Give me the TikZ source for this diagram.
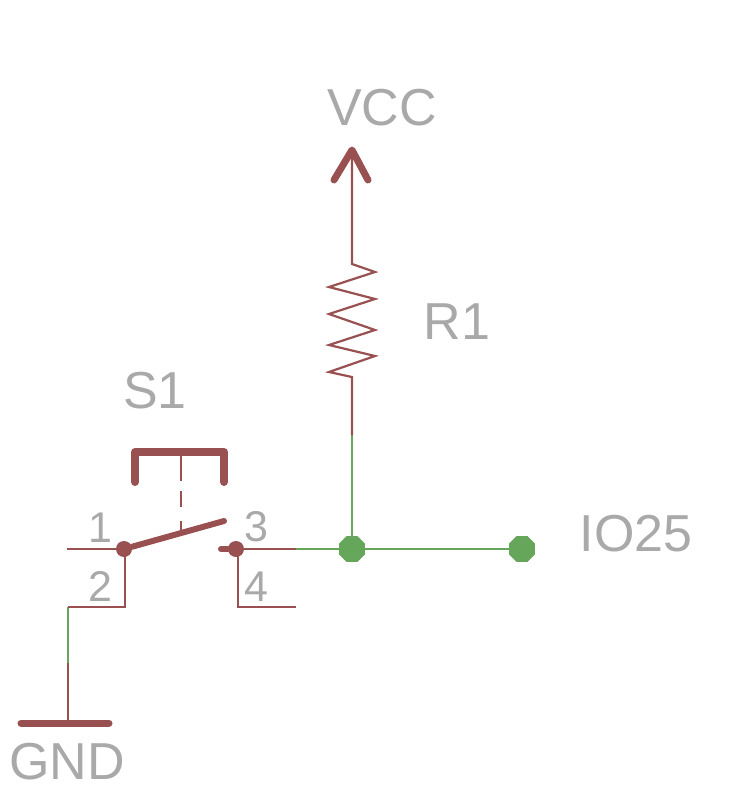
\documentclass[tikz,border=0pt]{standalone}
\usepackage{fontspec}
\setmainfont{Liberation Sans}
\usetikzlibrary{shapes.geometric}
\definecolor{symred}{HTML}{985050}
\definecolor{netgreen}{HTML}{66A65A}
\definecolor{txtgray}{HTML}{A9A9A9}
\tikzset{
	symline/.style={draw=symred, line width=2.2pt},
	netline/.style={draw=netgreen, line width=2.4pt},
	symthick/.style={draw=symred, line width=7pt, line cap=round, line join=round},
	junction/.style={draw=none, fill=netgreen, regular polygon, regular polygon sides=8, inner sep=0pt, minimum size=28pt},
	blob/.style={circle, fill=symred, inner sep=0pt, minimum size=16pt},
	partlabel/.style={text=txtgray, inner sep=0pt, font=\fontsize{52}{52}\selectfont},
	pinlabel/.style={text=txtgray, inner sep=0pt, font=\fontsize{43}{43}\selectfont}
}
\begin{document}
\begin{tikzpicture}[x=1pt, y=-1pt]
	\useasboundingbox (0,0) rectangle (752,804);

	\coordinate (vcc tip) at (352,150);
	\coordinate (vcc left) at (334,180);
	\coordinate (vcc right) at (368,180);
	\coordinate (r top) at (352,264);
	\coordinate (r bot) at (352,377);
	\coordinate (r end) at (352,435);
	\coordinate (pin1) at (67,549);
	\coordinate (pin2 up) at (125,549);
	\coordinate (pin2 corner) at (125,607);
	\coordinate (pin2) at (68,607);
	\coordinate (gnd wire) at (68,663);
	\coordinate (gnd mid) at (68,723);
	\coordinate (gnd left) at (21,723);
	\coordinate (gnd right) at (109,723);
	\coordinate (lever end) at (224,521);
	\coordinate (contact) at (221,549);
	\coordinate (pin3 up) at (238,549);
	\coordinate (pin3) at (296,549);
	\coordinate (pin4 corner) at (238,607);
	\coordinate (pin4) at (296,607);
	\coordinate (btn left) at (135,482);
	\coordinate (btn tl) at (135,452);
	\coordinate (btn tr) at (224,452);
	\coordinate (btn right) at (224,482);
	\coordinate (btn mid) at (181,452);
	\coordinate (lever mid) at (181,535);

	\node[junction] (j1) at (352,549) {};
	\node[junction] (j2) at (522,549) {};
	\node[blob] (b1) at (124,549) {};
	\node[blob] (b3) at (236,549) {};

	% wires
	\draw[netline] (r end) -- (j1);
	\draw[netline] (pin3) -- (j1) -- (j2);
	\draw[netline] (pin2) -- (gnd wire);

	% symbols
	\draw[symline] (vcc tip) -- (r top) -- ++(23,8) -- ++(-46,15) -- ++(46,12) -- ++(-46,15) -- ++(46,16) -- ++(-46,15) -- ++(46,11) -- ++(-46,16) -- (r bot) -- (r end);
	\draw[symthick] (vcc left) -- (vcc tip) -- (vcc right);
	\draw[symline] (pin1) -- (b1);
	\draw[symline] (pin2 up) -- (pin2 corner) -- (pin2);
	\draw[symline] (gnd wire) -- (gnd mid);
	\draw[symthick] (gnd left) -- (gnd right);
	\draw[symline] (b3) -- (pin3);
	\draw[symline] (pin3 up) -- (pin4 corner) -- (pin4);
	\draw[symthick, line width=6pt] (b1) -- (lever end);
	\draw[symthick, line width=6pt] (contact) -- (b3);
	\draw[symthick, line width=8pt] (btn left) -- (btn tl) -- (btn tr) -- (btn right);
	\draw[symline, dash pattern=on 29pt off 10pt on 16pt off 14pt on 16pt off 20pt] (btn mid) -- (lever mid);

	% labels
	\node[partlabel] (vcc) at (382,108) {VCC};
	\node[partlabel] (r1) at (457,322) {R1};
	\node[partlabel] (s1) at (155,391) {S1};
	\node[partlabel] (io25) at (636,534) {IO25};
	\node[partlabel] (gnd) at (67,762) {GND};
	\node[pinlabel] (n1) at (100,528) {1};
	\node[pinlabel] (n2) at (100,586) {2};
	\node[pinlabel] (n3) at (256,527) {3};
	\node[pinlabel] (n4) at (256,587) {4};
\end{tikzpicture}
\end{document}
